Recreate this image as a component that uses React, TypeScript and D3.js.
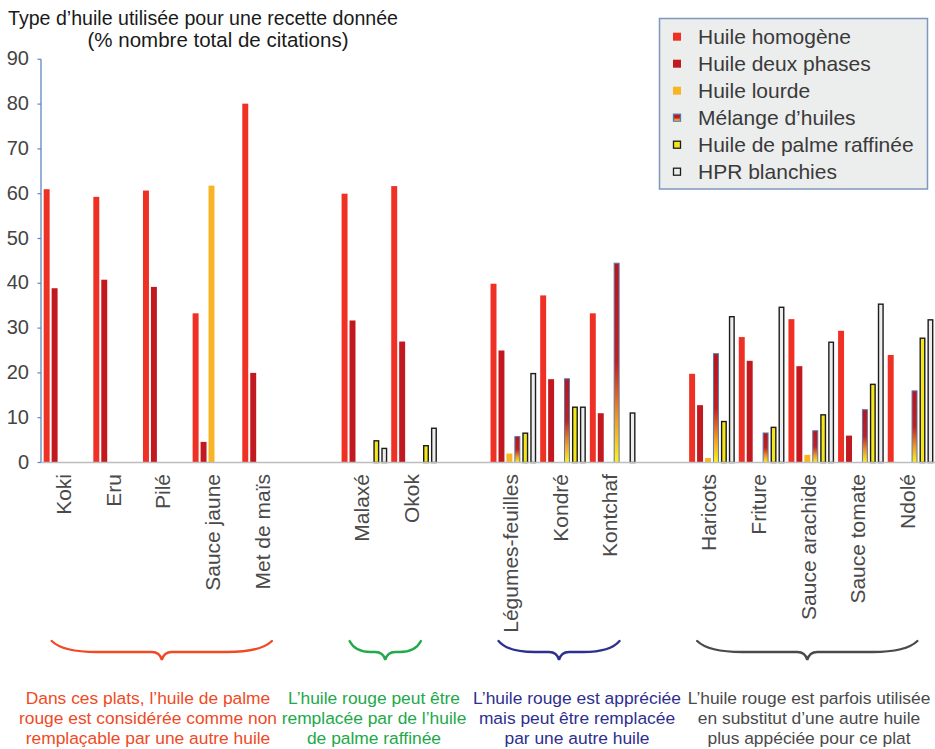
import React from "react";
import * as d3 from "d3";

const categories = [
  "Koki", "Eru", "Pilé", "Sauce jaune", "Met de maïs", "",
  "Malaxé", "Okok", "",
  "Légumes-feuilles", "Kondré", "Kontchaf", "",
  "Haricots", "Friture", "Sauce arachide", "Sauce tomate", "Ndolé",
];

const seriesNames = [
  "Huile homogène",
  "Huile deux phases",
  "Huile lourde",
  "Mélange d’huiles",
  "Huile de palme raffinée",
  "HPR blanchies",
];

const homogene = [61, 59.3, 60.7, 33.3, 80.1, null, 60.0, 61.7, null, 39.9, 37.3, 33.3, null, 19.8, 28.0, 32.0, 29.4, 24.0];
const deuxPhases = [38.9, 40.8, 39.2, 4.6, 20.0, null, 31.7, 27.0, null, 25.0, 18.6, 11.0, null, 12.8, 22.7, 21.5, 6.0, 0];
const lourde = [0, 0, 0, 61.8, 0, null, 0, 0, null, 2.0, 0, 0, null, 1.0, 0, 1.7, 0, 0];
const melange = [0, 0, 0, 0, 0, null, 0, 0, null, 5.9, 18.8, 44.6, null, 24.4, 6.7, 7.2, 11.9, 16.1];
const palmeRaffinee = [0, 0, 0, 0, 0, null, 5.0, 3.9, null, 6.7, 12.5, 0, null, 9.3, 8.0, 10.8, 17.6, 27.9];
const hprBlanchies = [0, 0, 0, 0, 0, null, 3.3, 7.8, null, 20.0, 12.5, 11.2, null, 32.7, 34.8, 27.0, 35.5, 32.0];

const yTicks = [0, 10, 20, 30, 40, 50, 60, 70, 80, 90];

const titleLines = ["Type d’huile utilisée pour une recette donnée", "(% nombre total de citations)"];

const groupStarts = [0, 6, 9, 13];
const groupEnds = [4, 7, 11, 17];
const groupTexts = [
  ["Dans ces plats, l’huile de palme", "rouge est considérée comme non", "remplaçable par une autre huile"],
  ["L’huile rouge peut être", "remplacée par de l’huile", "de palme raffinée"],
  ["L’huile rouge est appréciée", "mais peut être remplacée", "par une autre huile"],
  ["L’huile rouge est parfois utilisée", "en substitut d’une autre huile", "plus appéciée pour ce plat"],
];

// styling (not data)
const styles = [
  { fill: "#EE3124", stroke: "none" },
  { fill: "#C1191F", stroke: "none" },
  { fill: "#F8B425", stroke: "none" },
  { fill: "url(#melangeGrad)", stroke: "#5A7AAE" },
  { fill: "#F4E61A", stroke: "#1c1c1c" },
  { fill: "#EDEDED", stroke: "#1c1c1c" },
];
const groupColors = ["#EF4A25", "#22A94A", "#2E2F8E", "#4A4A4A"];
const groupTextX = [148, 374, 577, 809];

const W = 935;
const H = 749;
const FONT = "'Liberation Sans', Arial, Helvetica, sans-serif";

export default function App() {
  const series = [homogene, deuxPhases, lourde, melange, palmeRaffinee, hprBlanchies];
  const x = d3.scaleBand<number>().domain(d3.range(categories.length)).range([41.7, 935.4]).paddingInner(0).paddingOuter(0);
  const xs = d3.scaleBand<number>().domain(d3.range(series.length)).range([0, x.bandwidth()]).padding(0.25);
  const y = d3.scaleLinear().domain([0, 90]).range([462.5, 59.3]);

  const bars: React.ReactNode[] = [];
  series.forEach((vals, si) => {
    vals.forEach((v, ci) => {
      if (v == null || v <= 0) return;
      const bx = (x(ci) as number) + (xs(si) as number);
      const st = styles[si];
      const hasStroke = st.stroke !== "none";
      const sw = si === 3 ? 1.0 : 1.4;
      const inset = hasStroke ? sw / 2 : 0;
      bars.push(
        <rect
          key={`${si}-${ci}`}
          x={bx + inset}
          y={y(v) + inset}
          width={xs.bandwidth() - 2 * inset}
          height={Math.max(0, y(0) - y(v) - inset)}
          fill={st.fill}
          stroke={st.stroke}
          strokeWidth={hasStroke ? sw : 0}
        />
      );
    });
  });

  const bracePath = (x0: number, x1: number) => {
    const yt = 641, yl = 652, yc = 660;
    const cx = (x0 + x1) / 2;
    const e = Math.min(45, (x1 - x0) * 0.3);
    return `M${x0},${yt} Q${x0 + e * 0.25},${yl} ${x0 + e},${yl} L${cx - 10},${yl} Q${cx - 2},${yl} ${cx},${yc} Q${cx + 2},${yl} ${cx + 10},${yl} L${x1 - e},${yl} Q${x1 - e * 0.25},${yl} ${x1},${yt}`;
  };

  const legendY0 = 36.7;
  const legendStep = 27;

  return (
    <svg width={W} height={H} style={{ position: "absolute", left: 0, top: 0, background: "#fff" }} fontFamily={FONT}>
      <defs>
        <linearGradient id="melangeGrad" x1="0" y1="0" x2="0" y2="1">
          <stop offset="0" stopColor="#B8151D" />
          <stop offset="0.5" stopColor="#C2201E" />
          <stop offset="0.78" stopColor="#F39A22" />
          <stop offset="1" stopColor="#FFF21A" />
        </linearGradient>
      </defs>
      <rect x={0} y={0} width={W} height={H} fill="#fff" />

      {/* title */}
      <text x={8} y={25} fontSize={19.6} fill="#1a1a1a">{titleLines[0]}</text>
      <text x={218} y={47} fontSize={20.5} fill="#1a1a1a" textAnchor="middle">{titleLines[1]}</text>

      {/* y axis */}
      <line x1={41} x2={41} y1={y(90)} y2={y(0)} stroke="#5E86C4" strokeWidth={1.3} />
      {yTicks.map((t) => (
        <g key={t}>
          <line x1={37.5} x2={41} y1={y(t)} y2={y(t)} stroke="#5E86C4" strokeWidth={1.2} />
          <text x={29} y={y(t) - 1} fontSize={20} fill="#444" textAnchor="end" dominantBaseline="central">{t}</text>
        </g>
      ))}

      {bars}

      {/* x axis */}
      <line x1={41} x2={W} y1={y(0)} y2={y(0)} stroke="#BDBDBD" strokeWidth={1.3} />

      {categories.map((c, i) =>
        c ? (
          <text
            key={i}
            transform={`translate(${(x(i) as number) + x.bandwidth() / 2 + 4.5},474) rotate(-90)`}
            fontSize={21}
            fill="#4a4a4a"
            textAnchor="end"
          >
            {c}
          </text>
        ) : null
      )}

      {/* braces and annotations */}
      {groupStarts.map((s, gi) => {
        const x0 = (x(s) as number) + 10;
        const x1 = (x(groupEnds[gi]) as number) + x.bandwidth() - 18;
        return (
          <g key={gi}>
            <path d={bracePath(x0, x1)} fill="none" stroke={groupColors[gi]} strokeWidth={2.3} strokeLinecap="round" />
            {groupTexts[gi].map((ln, li) => (
              <text key={li} x={groupTextX[gi]} y={704 + li * 20} fontSize={17.4} fill={groupColors[gi]} textAnchor="middle">{ln}</text>
            ))}
          </g>
        );
      })}

      {/* legend */}
      <rect x={659.5} y={18.5} width={268} height={170.5} fill="#ECEDED" stroke="#7F97BF" strokeWidth={1.5} />
      {seriesNames.map((n, i) => {
        const cy = legendY0 + i * legendStep;
        const st = styles[i];
        const hasStroke = st.stroke !== "none";
        return (
          <g key={n}>
            <rect
              x={hasStroke ? 673.5 : 673}
              y={hasStroke ? cy - 3.5 : cy - 4}
              width={hasStroke ? 7 : 8}
              height={hasStroke ? 7 : 8}
              fill={st.fill}
              stroke={st.stroke}
              strokeWidth={hasStroke ? 1.3 : 0}
            />
            <text x={698} y={cy} fontSize={21} fill="#3a3a3a" dominantBaseline="central">{n}</text>
          </g>
        );
      })}
    </svg>
  );
}
